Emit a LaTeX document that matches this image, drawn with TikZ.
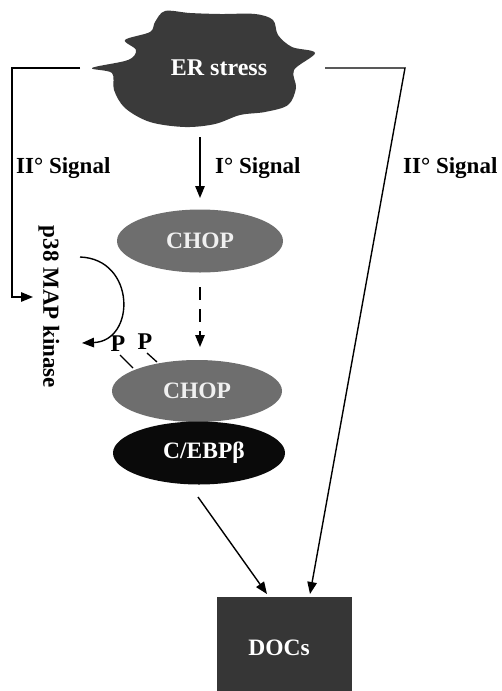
\documentclass[tikz,border=0pt]{standalone}
\usepackage{fontspec}
\setmainfont{Liberation Serif}
\usetikzlibrary{shapes.geometric,arrows.meta}
\definecolor{cloudgray}{HTML}{3A3A3A}
\definecolor{chopgray}{HTML}{6E6E6E}
\definecolor{cebpblack}{HTML}{0A0A0A}
\definecolor{docsgray}{HTML}{363636}
\tikzset{
  lbl/.style={font=\fontsize{23}{25}\selectfont\bfseries, inner sep=0pt},
  whitelbl/.style={font=\fontsize{23.5}{25}\selectfont\bfseries, text=white, inner sep=0pt},
  blob/.style={ellipse, minimum width=#1, minimum height=62pt, inner sep=0pt},
  conn/.style={line width=1.4pt, -{Triangle[length=12pt,width=9.5pt]}},
  plainline/.style={line width=1.3pt},
}
\begin{document}
\begin{tikzpicture}[x=1pt,y=-1pt]
\useasboundingbox (0,0) rectangle (502,691);

% ER stress cloud
\fill[cloudgray] plot[smooth cycle, tension=0.55] coordinates {
  (92,68) (112,73) (114,90) (125,108) (150,122) (185,127) (215,124)
  (240,115) (265,112) (288,105) (296,88) (294,70) (315,53) (292,47)
  (278,35) (273,20) (255,14) (220,14) (190,13) (165,11) (155,22)
  (150,32) (125,40) (136,50) (128,60)};
\node[whitelbl, font=\fontsize{24}{26}\selectfont\bfseries] (er) at (219,68) {ER stress};

% proteins and target
\node[blob=166pt, fill=chopgray, minimum height=63pt] (chop1) at (200,241) {};
\node[whitelbl, text=white!94!black] at (chop1) {CHOP};
\node[blob=170pt, fill=chopgray] (chop2) at (197,391) {};
\node[whitelbl, text=white!94!black] at (chop2) {CHOP};
\node[blob=172pt, fill=cebpblack, minimum height=63pt] (cebp) at (199,453) {};
\node[whitelbl] at (204,453) {C/EBPβ};
\node[fill=docsgray, minimum width=135pt, minimum height=94pt, inner sep=0pt] (docs) at (284.5,644) {};
\node[whitelbl] at (279,648) {DOCs};

% kinase label
\node[lbl, rotate=-90] (p38) at (49,307) {p38 MAP kinase};

% signal labels
\node[lbl, anchor=west] (sigL) at (16,168) {II° Signal};
\node[lbl, anchor=west] (sigM) at (215,168) {I° Signal};
\node[lbl, anchor=west] (sigR) at (403,168) {II° Signal};

% phosphate groups
\node[lbl, font=\fontsize{24}{26}\selectfont\bfseries] (p1) at (118,344) {P};
\node[lbl, font=\fontsize{24}{26}\selectfont\bfseries] (p2) at (145,342) {P};
\coordinate (p1end) at (133,368);
\coordinate (p2end) at (157,362);
\draw[plainline] (120,355) -- (p1end);
\draw[plainline] (147,353) -- (p2end);

% connector end points
\coordinate (lstart) at (80,68);
\coordinate (lcorner) at (12,68);
\coordinate (ltip) at (33,297);
\coordinate (rstart) at (325,68);
\coordinate (rcorner) at (405,68);
\coordinate (rtip) at (310,594);
\coordinate (mstart) at (200,137);
\coordinate (mtip) at (200,198);
\coordinate (dstart) at (200,287);
\coordinate (dtip) at (200,347);
\coordinate (cstart) at (198,497);
\coordinate (ctip) at (267,594);
\coordinate (arcstart) at (80,257);
\coordinate (arctip) at (82,343);

% connectors
\draw[conn] (lstart) -- (lcorner) |- (ltip);
\draw[conn] (rstart) -- (rcorner) -- (rtip);
\draw[conn] (mstart) -- (mtip);
\draw[conn, dash pattern=on 13pt off 9pt] (dstart) -- (dtip);
\draw[conn] (cstart) -- (ctip);
\draw[conn] (arcstart) .. controls (136,259) and (136,341) .. (arctip);
\end{tikzpicture}
\end{document}
